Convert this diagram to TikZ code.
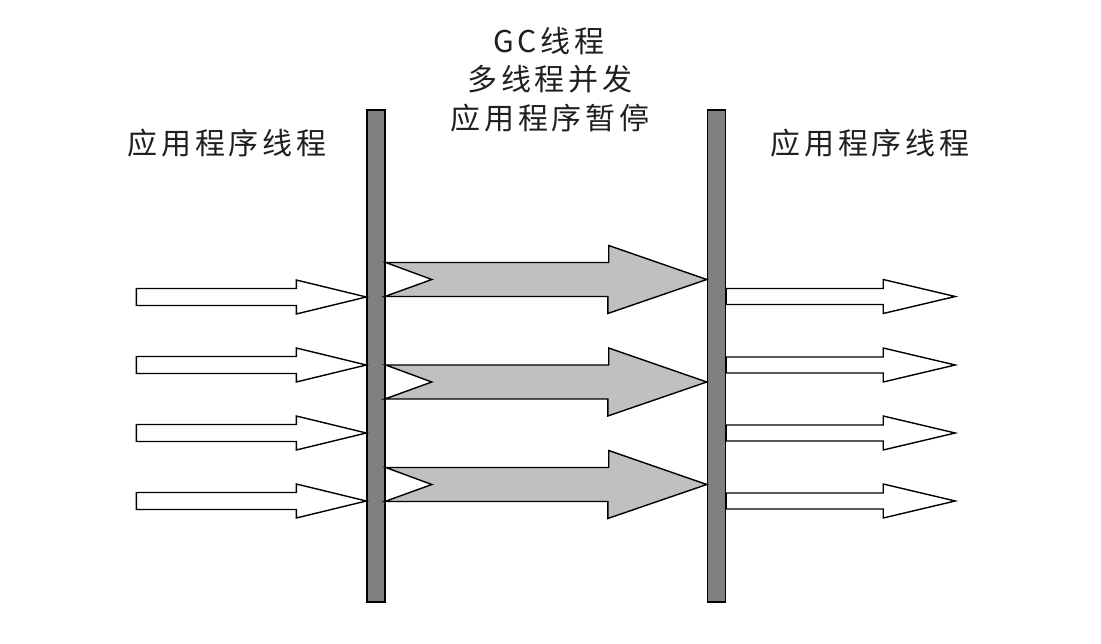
\documentclass[tikz,border=0pt]{standalone}
\usepackage{fontspec}
\newfontfamily\cjk[LetterSpace=13]{Noto Sans CJK SC}
\definecolor{barGray}{RGB}{128,128,128}
\definecolor{gcGray}{RGB}{192,192,192}
\begin{document}
\begin{tikzpicture}[x=1pt,y=-1pt,
  bar/.style={draw=black, line width=1.4pt, fill=barGray, rectangle,
    minimum width=18pt, minimum height=492pt, inner sep=0pt},
  whitearrow/.style={draw=black, line width=1.4pt, fill=white, line join=miter},
  grayarrow/.style={draw=black, line width=1.4pt, fill=gcGray, line join=miter},
  lbl/.style={font=\cjk\fontsize{30}{36}\selectfont, inner sep=0pt, text=black!88}]
\useasboundingbox (0,0) rectangle (1101,644);
% pause bars
\node[bar] (L) at (376,356) {};
\node[bar] (R) at (716.5,356) {};
% application threads before the pause
\foreach \c in {297,365,433,501}{
  \draw[whitearrow] (L.west |- 0,\c) -- ++(-70,-17) -- ++(0,8.5) -- ++(-160,0)
    -- ++(0,17) -- ++(160,0) -- ++(0,8.5) -- cycle;
}
% GC threads
\foreach \c in {279.5,382,484.5}{
  \draw[grayarrow] (L.east |- 0,\c) ++(0,-17) -- ++(223,0) -- ++(0,-17)
    -- (R.west |- 0,\c) -- ++(-99,34) -- ++(0,-17) -- ++(-223,0) -- ++(47,-17) -- cycle;
}
% application threads after the pause
\foreach \c in {296.5,365,433,501}{
  \draw[whitearrow] (R.east |- 0,\c) -- ++(0,-8) -- ++(157,0) -- ++(0,-9) -- ++(72,17)
    -- ++(-72,17) -- ++(0,-9) -- ++(-157,0) -- cycle;
}
% labels
\node[lbl] (tl) at (227,143) {应用程序线程};
\node[lbl] (tr) at (870,143) {应用程序线程};
\node[lbl] (m1) at (549,41) {GC线程};
\node[lbl] (m2) at (550,79) {多线程并发};
\node[lbl] (m3) at (550,118) {应用程序暂停};
\end{tikzpicture}
\end{document}
